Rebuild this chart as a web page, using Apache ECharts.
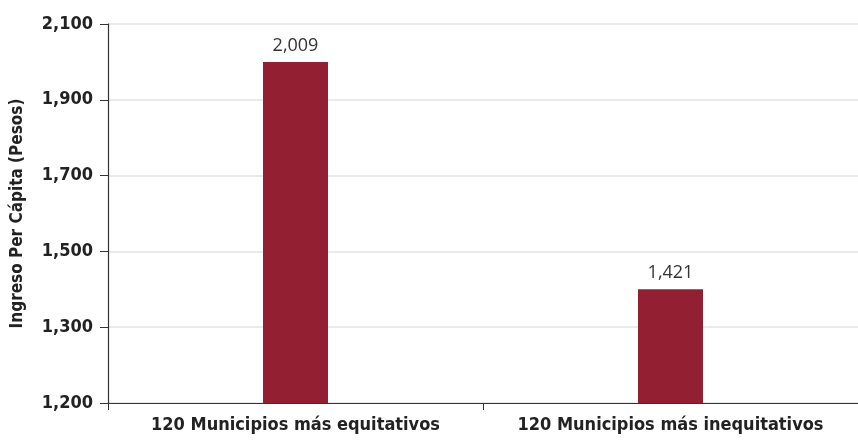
<!DOCTYPE html>
<html><head><meta charset="utf-8">
<script src="https://cdn.jsdelivr.net/npm/echarts@6/dist/echarts.min.js"></script>
<style>html,body{margin:0;padding:0;background:#fff}#c{width:858px;height:440px}</style>
</head><body><div id="c"></div>
<script>
const categories = ['120 Municipios más equitativos', '120 Municipios más inequitativos'];
const barValues = [2000, 1400];
const barLabels = ['2,009', '1,421'];
const tickValues = [1100, 1300, 1500, 1700, 1900, 2100];
const tickLabels = ['1,200', '1,300', '1,500', '1,700', '1,900', '2,100'];
const yName = 'Ingreso Per Cápita (Pesos)';

const axisFont = "'Liberation Sans Narrow','DejaVu Sans Condensed','Roboto Condensed',sans-serif";
const chart = echarts.init(document.getElementById('c'));
chart.setOption({
  animation: false,
  grid: { left: 108, right: -8, top: 24, bottom: 37, containLabel: false },
  xAxis: {
    type: 'category', data: categories,
    axisLine: { lineStyle: { color: '#333', width: 1.2 } },
    axisTick: { show: true, length: 7, lineStyle: { color: '#333' } },
    axisLabel: { interval: 0, hideOverlap: false, color: '#222', fontFamily: axisFont, fontWeight: 'bold', fontSize: 18, margin: 13 }
  },
  yAxis: {
    type: 'value', min: 1100, max: 2100, interval: 200,
    name: yName, nameLocation: 'middle', nameGap: 82, nameRotate: 90,
    nameTextStyle: { color: '#222', fontFamily: axisFont, fontWeight: 'bold', fontSize: 17 },
    axisLine: { show: true, lineStyle: { color: '#333', width: 1.2 } },
    axisTick: { show: true, length: 8, lineStyle: { color: '#333' } },
    axisLabel: {
      color: '#222', fontFamily: axisFont, fontWeight: 'bold', fontSize: 18, margin: 15,
      formatter: v => { const i = tickValues.indexOf(v); return i >= 0 ? tickLabels[i] : ''; }
    },
    splitLine: { show: true, lineStyle: { color: '#e3e3e3', width: 1.5 } }
  },
  series: [{
    type: 'bar', data: barValues, barWidth: 65,
    itemStyle: { color: '#931f33' },
    label: {
      show: true, position: 'top', distance: 7, color: '#333', fontSize: 18,
      fontFamily: "'Open Sans','Noto Sans',sans-serif",
      formatter: p => barLabels[p.dataIndex]
    }
  }]
});
</script></body></html>
